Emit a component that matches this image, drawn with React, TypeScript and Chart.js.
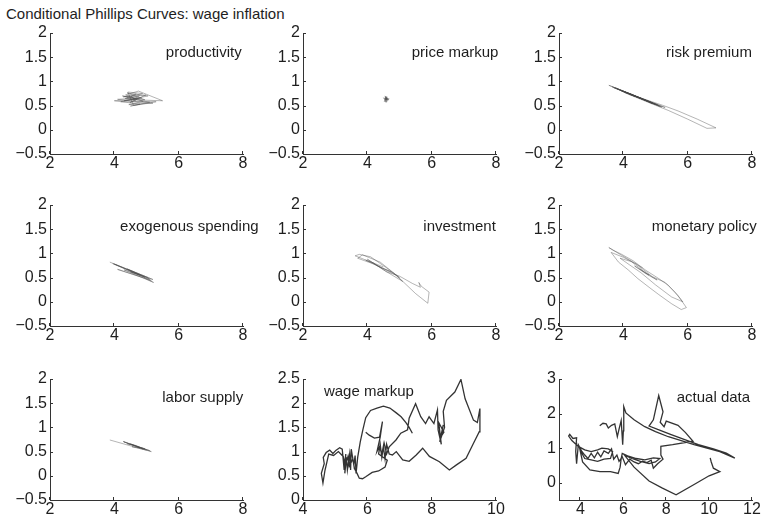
import React, { useEffect, useRef } from 'react';
import { Chart, registerables } from 'chart.js';

Chart.register(...registerables);

// ---------- text ----------
const figureTitle = 'Conditional Phillips Curves: wage inflation';
const panelNames = [
  'productivity', 'price markup', 'risk premium',
  'exogenous spending', 'investment', 'monetary policy',
  'labor supply', 'wage markup', 'actual data',
];

// ---------- axes ----------
const xTicksStd = [2, 4, 6, 8];
const yTicksStd = [-0.5, 0, 0.5, 1, 1.5, 2];
const xTicksWage = [4, 6, 8, 10];
const yTicksWage = [0, 0.5, 1, 1.5, 2, 2.5];
const xTicksActual = [4, 6, 8, 10, 12];
const yTicksActual = [0, 1, 2, 3];
const xRangeStd = [2, 8];
const yRangeStd = [-0.5, 2];
const xRangeWage = [4, 10];
const yRangeWage = [0, 2.5];
const xRangeActual = [3, 12];
const yRangeActual = [-0.5, 3];

// panel label anchors (data units, left/baseline)
const labelXs = [5.6, 5.38, 5.33, 4.18, 5.74, 4.88, 5.49, 4.65, 8.49];
const labelYs = [1.51, 1.51, 1.51, 1.47, 1.47, 1.47, 1.53, 2.15, 2.34];

// ---------- series ----------
const prodX = [4.62, 4.25, 4.95, 4.40, 5.05, 4.30, 4.85, 4.10, 4.70, 5.20, 4.45, 4.90, 4.35, 4.75, 5.50, 4.55, 4.00, 4.80, 4.50, 5.10, 4.38, 4.68, 4.28, 4.98, 4.48, 4.72, 4.20, 5.30, 4.60, 4.42, 4.88, 4.52, 4.66, 4.33, 4.78, 4.58];
const prodY = [0.65, 0.70, 0.62, 0.76, 0.70, 0.60, 0.66, 0.63, 0.58, 0.55, 0.52, 0.59, 0.72, 0.80, 0.60, 0.62, 0.60, 0.53, 0.49, 0.57, 0.66, 0.74, 0.68, 0.72, 0.56, 0.64, 0.58, 0.58, 0.50, 0.78, 0.75, 0.69, 0.61, 0.65, 0.70, 0.63];

const markupX = [4.57, 4.62, 4.52, 4.60, 4.55, 4.66, 4.50, 4.58, 4.63, 4.54, 4.59, 4.56, 4.64, 4.57, 4.61, 4.53, 4.68, 4.58];
const markupY = [0.63, 0.68, 0.59, 0.57, 0.70, 0.62, 0.66, 0.60, 0.65, 0.64, 0.69, 0.58, 0.60, 0.67, 0.61, 0.62, 0.64, 0.63];

const riskX = [4.60, 3.90, 5.10, 3.70, 5.30, 4.00, 4.95, 3.55, 4.40, 5.25, 5.70, 6.30, 6.88, 6.60, 6.00, 5.40, 4.80, 4.10, 3.80, 4.50, 5.05, 4.20, 4.85, 4.30, 5.15, 4.65, 3.95, 4.25, 4.90, 3.75, 5.20, 4.45, 4.05, 4.75, 5.00, 3.65, 4.35];
const riskY = [0.64, 0.82, 0.50, 0.87, 0.46, 0.80, 0.54, 0.92, 0.69, 0.50, 0.39, 0.22, 0.04, 0.03, 0.22, 0.40, 0.56, 0.75, 0.85, 0.66, 0.52, 0.73, 0.57, 0.71, 0.48, 0.62, 0.80, 0.74, 0.54, 0.87, 0.47, 0.68, 0.77, 0.60, 0.52, 0.89, 0.69];

const exoX = [3.86, 5.20, 4.00, 5.10, 3.95, 5.15, 4.10, 4.90, 5.22, 4.30, 4.80, 4.50, 4.95, 4.40, 5.05];
const exoY = [0.82, 0.46, 0.78, 0.47, 0.79, 0.44, 0.67, 0.50, 0.40, 0.66, 0.55, 0.62, 0.51, 0.68, 0.50];

const invX = [4.50, 3.62, 3.75, 4.10, 4.60, 5.00, 4.40, 3.85, 3.70, 4.20, 4.80, 5.10, 4.50, 4.00, 4.30, 4.90, 5.20, 5.50, 5.88, 5.92, 5.68, 5.60, 5.65, 5.40, 5.00, 4.60, 4.20, 3.95, 4.45, 4.75];
const invY = [0.72, 0.95, 0.98, 0.93, 0.70, 0.50, 0.82, 0.97, 0.90, 0.78, 0.60, 0.42, 0.66, 0.88, 0.75, 0.55, 0.36, 0.17, -0.03, 0.20, 0.32, 0.40, 0.30, 0.38, 0.53, 0.62, 0.80, 0.86, 0.70, 0.62];

const monX = [4.60, 3.55, 3.70, 3.95, 4.30, 4.70, 5.10, 5.40, 5.70, 5.96, 5.80, 5.50, 5.10, 4.80, 4.45, 4.15, 3.85, 3.62, 4.00, 4.40, 4.90, 5.30, 5.60, 5.85, 5.50, 5.00, 4.55, 4.20, 3.90, 4.25, 4.65, 5.05, 4.70, 4.35, 4.80, 4.50];
const monY = [0.70, 1.12, 1.06, 0.98, 0.85, 0.65, 0.48, 0.34, 0.13, -0.12, -0.16, -0.04, 0.15, 0.30, 0.48, 0.66, 0.82, 1.02, 0.92, 0.78, 0.52, 0.40, 0.20, 0.00, 0.10, 0.35, 0.60, 0.76, 0.90, 0.83, 0.62, 0.45, 0.58, 0.74, 0.55, 0.68];

const laborX = [3.86, 4.60, 5.15, 4.30, 4.90, 4.50, 5.10, 4.27, 4.80, 4.55, 5.00, 4.65, 4.40, 4.95, 4.70];
const laborY = [0.74, 0.60, 0.50, 0.70, 0.55, 0.66, 0.52, 0.71, 0.58, 0.60, 0.53, 0.63, 0.66, 0.56, 0.59];

const wageX = [7.40, 7.30, 7.20, 7.05, 6.90, 6.70, 6.50, 6.30, 6.10, 5.95, 5.86, 5.78, 5.70, 5.65, 5.62, 5.58, 5.50, 5.48, 5.45, 5.38, 5.35, 5.30, 5.33, 5.28, 5.22, 5.14, 5.03, 4.93, 4.83, 4.72, 4.63, 4.66, 4.57, 4.62, 4.68, 4.80, 4.95, 5.10, 5.25, 5.32, 5.40, 5.44, 5.55, 5.60, 5.68, 5.75, 5.85, 5.95, 6.15, 6.35, 6.55, 6.62, 6.35, 6.40, 6.45, 6.50, 6.55, 6.60, 6.68, 6.78, 6.90, 7.10, 7.30, 7.52, 7.72, 7.93, 8.24, 8.55, 8.76, 9.07, 9.27, 9.48, 9.50, 9.42, 9.30, 9.04, 8.91, 8.72, 8.46, 8.36, 8.40, 8.25, 8.36, 8.28, 8.38, 8.22, 8.30, 8.20, 8.18, 8.07, 7.92, 7.81, 7.66, 7.50, 7.30, 7.25, 7.04, 6.89, 6.68, 6.60, 6.52, 6.45, 6.38, 6.30, 6.40, 6.47, 6.38, 6.22, 6.06, 5.95];
const wageY = [1.38, 1.50, 1.60, 1.72, 1.80, 1.90, 1.94, 1.90, 1.85, 1.70, 1.45, 1.20, 0.88, 0.55, 0.92, 0.72, 1.05, 0.62, 0.95, 0.62, 0.88, 0.55, 0.95, 0.62, 1.05, 1.08, 1.03, 0.96, 1.03, 0.98, 0.88, 0.75, 0.55, 0.35, 0.60, 0.95, 0.92, 1.00, 0.90, 0.70, 0.90, 0.70, 0.85, 0.65, 0.55, 0.45, 0.44, 0.48, 0.57, 0.60, 0.68, 0.82, 0.95, 1.15, 0.88, 1.10, 0.85, 1.15, 0.95, 0.93, 1.00, 0.83, 0.80, 0.93, 1.07, 0.90, 0.79, 0.62, 0.72, 0.86, 1.13, 1.41, 1.89, 1.60, 1.65, 2.09, 2.49, 2.23, 2.06, 1.83, 1.50, 1.20, 1.55, 1.30, 1.40, 1.60, 1.15, 1.45, 1.86, 1.58, 1.72, 1.58, 1.72, 1.99, 1.69, 1.45, 1.38, 1.24, 1.10, 0.95, 1.18, 0.95, 1.10, 1.00, 1.30, 1.62, 1.30, 1.28, 1.34, 1.40];

const actualX = [4.90, 5.05, 5.20, 5.30, 5.45, 5.60, 5.72, 5.80, 5.90, 5.97, 6.00, 6.02, 6.12, 6.50, 7.00, 7.50, 8.10, 8.70, 9.30, 9.90, 10.50, 11.20, 10.80, 10.20, 9.50, 8.80, 8.20, 7.60, 7.20, 7.40, 7.65, 7.85, 7.72, 7.90, 8.00, 8.55, 8.90, 9.25, 8.30, 7.75, 7.75, 7.85, 7.60, 7.40, 7.30, 7.10, 6.90, 6.70, 6.50, 6.30, 6.10, 5.95, 5.80, 5.70, 5.55, 5.45, 5.30, 5.10, 4.95, 4.80, 4.65, 4.50, 4.35, 4.20, 4.05, 3.90, 3.82, 3.78, 3.82, 3.65, 3.50, 3.45, 3.60, 3.90, 4.20, 4.50, 4.80, 5.00, 5.30, 5.50, 5.40, 5.10, 4.80, 4.50, 4.20, 3.98, 4.10, 4.44, 4.91, 5.40, 5.76, 5.85, 5.90, 5.95, 6.20, 6.60, 7.00, 7.40, 7.70, 7.50, 7.20, 6.80, 6.40, 6.05, 6.50, 7.20, 7.80, 8.46, 9.30, 10.00, 10.50, 10.20, 10.10, 10.05];
const actualY = [1.65, 1.72, 1.70, 1.58, 1.66, 1.70, 1.33, 1.55, 1.80, 1.10, 1.50, 2.20, 2.02, 1.82, 1.62, 1.48, 1.33, 1.22, 1.10, 1.00, 0.90, 0.71, 0.86, 0.98, 1.10, 1.26, 1.40, 1.54, 1.64, 1.82, 2.52, 2.05, 1.75, 1.62, 1.78, 1.66, 1.45, 1.20, 1.10, 1.05, 0.80, 0.68, 0.55, 0.42, 0.65, 0.58, 0.62, 0.55, 0.60, 0.68, 0.52, 0.75, 0.62, 0.80, 0.68, 0.98, 0.85, 0.92, 0.75, 0.88, 0.72, 0.85, 0.70, 0.80, 0.92, 1.10, 0.55, 0.90, 1.30, 1.28, 1.40, 1.35, 1.22, 1.05, 0.95, 0.90, 0.95, 1.00, 0.98, 0.90, 0.70, 0.68, 0.62, 0.66, 0.70, 0.95, 0.60, 0.37, 0.32, 0.32, 0.27, 0.45, 0.70, 0.85, 0.78, 0.70, 0.66, 0.72, 0.70, 0.60, 0.55, 0.62, 0.70, 0.80, 0.45, 0.05, -0.15, -0.35, -0.05, 0.20, 0.32, 0.42, 0.60, 0.72];

// ---------- layout / style ----------
const FONT = '"Liberation Sans", Arial, Helvetica, sans-serif';
const colLeft = [50, 303, 559];
const rowTop = [33, 205, 379];
const PLOT_W = 193;
const PLOT_H = 121;
const PAD_L = 50;
const PAD_T = 22;
const PAD_R = 30;
const AX_H = 26;
const AXIS_COLOR = '#333333';
const TEXT_COLOR = '#1e1e1e';
const TICK_SIZE = 16;
const LABEL_SIZE = 15;

type PanelDef = {
  name: string; xs: number[]; ys: number[];
  xr: number[]; yr: number[]; xt: number[]; yt: number[];
  lx: number; ly: number; dark: boolean;
};

const seriesX = [prodX, markupX, riskX, exoX, invX, monX, laborX, wageX, actualX];
const seriesY = [prodY, markupY, riskY, exoY, invY, monY, laborY, wageY, actualY];

const panels: PanelDef[] = panelNames.map((name, i) => ({
  name,
  xs: seriesX[i],
  ys: seriesY[i],
  xr: i === 7 ? xRangeWage : i === 8 ? xRangeActual : xRangeStd,
  yr: i === 7 ? yRangeWage : i === 8 ? yRangeActual : yRangeStd,
  xt: i === 7 ? xTicksWage : i === 8 ? xTicksActual : xTicksStd,
  yt: i === 7 ? yTicksWage : i === 8 ? yTicksActual : yTicksStd,
  lx: labelXs[i],
  ly: labelYs[i],
  dark: i >= 7,
}));

const fmt = (v: any) => {
  const n = Number(v);
  return n < 0 ? '\u2212' + String(-n) : String(n);
};

const decorPlugin = {
  id: 'decor',
  afterDraw(chart: any, _args: any, opts: any) {
    const { ctx, chartArea, scales } = chart;
    const xs = scales.x;
    const ys = scales.y;
    ctx.save();
    ctx.strokeStyle = AXIS_COLOR;
    ctx.lineWidth = 1;
    ctx.beginPath();
    xs.ticks.forEach((t: any) => {
      const px = Math.round(xs.getPixelForValue(t.value)) - 0.5;
      ctx.moveTo(px, chartArea.bottom);
      ctx.lineTo(px, chartArea.bottom - 3);
    });
    ys.ticks.forEach((t: any) => {
      const py = Math.round(ys.getPixelForValue(t.value)) + 0.5;
      ctx.moveTo(chartArea.left, py);
      ctx.lineTo(chartArea.left + 3, py);
    });
    ctx.stroke();
    ctx.font = `${LABEL_SIZE}px ${FONT}`;
    ctx.fillStyle = TEXT_COLOR;
    ctx.textAlign = 'left';
    ctx.textBaseline = 'alphabetic';
    ctx.fillText(opts.text, xs.getPixelForValue(opts.x), ys.getPixelForValue(opts.y));
    ctx.restore();
  },
};

function PanelChart({ p, left, top }: { p: PanelDef; left: number; top: number }) {
  const ref = useRef<HTMLCanvasElement>(null);
  useEffect(() => {
    if (!ref.current) return;
    const tickFont = { family: FONT, size: TICK_SIZE };
    const chart = new Chart(ref.current, {
      type: 'scatter',
      data: {
        datasets: [
          {
            data: p.xs.map((x, i) => ({ x, y: p.ys[i] })),
            showLine: true,
            pointRadius: 0,
            pointHoverRadius: 0,
            borderColor: p.dark ? 'rgba(40,40,40,0.95)' : 'rgba(70,70,70,0.5)',
            borderWidth: p.dark ? 1.3 : 0.8,
            tension: 0,
          } as any,
        ],
      },
      options: {
        animation: false,
        responsive: false,
        devicePixelRatio: 1,
        events: [],
        layout: { padding: { left: 0, top: PAD_T, right: PAD_R, bottom: 0 } },
        plugins: {
          legend: { display: false },
          tooltip: { enabled: false },
          decor: { text: p.name, x: p.lx, y: p.ly },
        } as any,
        scales: {
          x: {
            type: 'linear',
            min: p.xr[0],
            max: p.xr[1],
            afterBuildTicks: (s: any) => { s.ticks = p.xt.map((v) => ({ value: v })); },
            afterFit: (s: any) => { s.height = AX_H; },
            grid: { display: false, drawTicks: false },
            border: { display: true, color: AXIS_COLOR, width: 1 },
            ticks: { padding: 0, font: tickFont, color: TEXT_COLOR, autoSkip: false, maxRotation: 0, callback: fmt },
          },
          y: {
            type: 'linear',
            min: p.yr[0],
            max: p.yr[1],
            afterBuildTicks: (s: any) => { s.ticks = p.yt.map((v) => ({ value: v })); },
            afterFit: (s: any) => { s.width = PAD_L; },
            grid: { display: false, drawTicks: false },
            border: { display: true, color: AXIS_COLOR, width: 1 },
            ticks: { padding: 3, font: tickFont, color: TEXT_COLOR, autoSkip: false, callback: fmt },
          },
        },
      } as any,
      plugins: [decorPlugin],
    });
    return () => chart.destroy();
  }, [p]);
  return (
    <canvas
      ref={ref}
      width={PAD_L + PLOT_W + PAD_R}
      height={PAD_T + PLOT_H + AX_H}
      style={{ position: 'absolute', left, top, width: PAD_L + PLOT_W + PAD_R, height: PAD_T + PLOT_H + AX_H }}
    />
  );
}

export default function App() {
  return (
    <div style={{ position: 'absolute', left: 0, top: 0, width: 763, height: 526, overflow: 'hidden', background: '#fff' }}>
      <div
        style={{
          position: 'absolute', left: 6, top: 5, font: `15px ${FONT}`, lineHeight: '17px',
          color: TEXT_COLOR, whiteSpace: 'nowrap',
        }}
      >
        {figureTitle}
      </div>
      {panels.map((p, i) => (
        <PanelChart
          key={p.name}
          p={p}
          left={colLeft[i % 3] - PAD_L}
          top={rowTop[Math.floor(i / 3)] - PAD_T}
        />
      ))}
    </div>
  );
}
